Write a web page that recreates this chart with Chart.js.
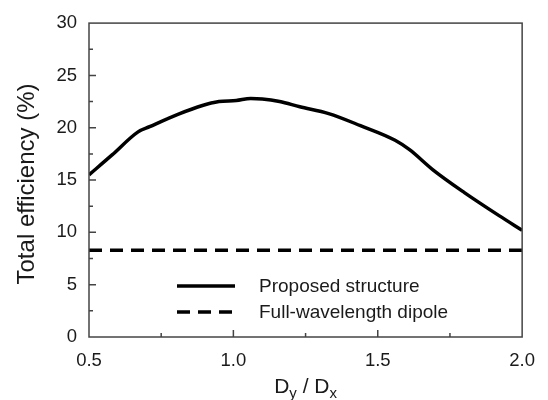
<!DOCTYPE html>
<html>
<head>
<meta charset="utf-8">
<script src="https://cdn.jsdelivr.net/npm/chart.js@4"></script>
<style>
  html, body { margin: 0; padding: 0; background: #fff; }
  #wrap { width: 548px; height: 400px; }
</style>
</head>
<body>
<div id="wrap"><canvas id="effChart" width="548" height="400"></canvas></div>
<script>
// values
const ratioX = [0.50, 0.58, 0.67, 0.71, 0.81, 0.89, 0.95, 1.01, 1.06, 1.10, 1.16, 1.23, 1.33, 1.44, 1.56, 1.61, 1.69, 1.80, 1.92, 2.00];
const proposedEff = [15.5, 17.4, 19.6, 20.1, 21.3, 22.1, 22.5, 22.6, 22.8, 22.75, 22.5, 22.0, 21.35, 20.2, 18.8, 17.9, 16.0, 13.8, 11.6, 10.2];
const dipoleX = [0.5, 2.0];
const dipoleEff = [8.3, 8.3];
const seriesNames = ['Proposed structure', 'Full-wavelength dipole'];
const xMajor = [1.0, 1.5], xMinor = [0.75, 1.25, 1.75];
const yMajor = [5, 10, 15, 20, 25], yMinor = [2.5, 7.5, 12.5, 17.5, 22.5, 27.5];

const FONT = '"Liberation Sans", Arial, sans-serif';
const INK = '#1a1a1a';

const toPts = (xs, ys) => xs.map((x, i) => ({ x, y: ys[i] }));

// frame, inward ticks, legend and axis titles
const decor = {
    id: 'decor',
    afterDraw(chart) {
        const { ctx, chartArea: a, scales: { x, y }, data } = chart;
        ctx.save();
        ctx.strokeStyle = '#444'; ctx.lineWidth = 1.5; ctx.setLineDash([]);
        ctx.strokeRect(a.left, a.top, a.right - a.left, a.bottom - a.top);
        ctx.beginPath();
        xMajor.forEach(v => { const p = x.getPixelForValue(v); ctx.moveTo(p, a.bottom); ctx.lineTo(p, a.bottom - 7); });
        xMinor.forEach(v => { const p = x.getPixelForValue(v); ctx.moveTo(p, a.bottom); ctx.lineTo(p, a.bottom - 4); });
        yMajor.forEach(v => { const p = y.getPixelForValue(v); ctx.moveTo(a.left, p); ctx.lineTo(a.left + 7, p); });
        yMinor.forEach(v => { const p = y.getPixelForValue(v); ctx.moveTo(a.left, p); ctx.lineTo(a.left + 4, p); });
        ctx.stroke();

        // legend
        const rows = [286, 312];
        data.datasets.forEach((ds, i) => {
            ctx.beginPath();
            ctx.strokeStyle = ds.borderColor; ctx.lineWidth = ds.borderWidth;
            ctx.setLineDash(ds.borderDash || []);
            ctx.moveTo(177, rows[i]); ctx.lineTo(235, rows[i]);
            ctx.stroke();
            ctx.fillStyle = INK; ctx.font = '19px ' + FONT;
            ctx.textBaseline = 'middle'; ctx.textAlign = 'left';
            ctx.fillText(ds.label, 259, rows[i] + 1);
        });
        ctx.setLineDash([]);

        // y title
        ctx.save();
        ctx.translate(27, 184); ctx.rotate(-Math.PI / 2);
        ctx.font = '24px ' + FONT; ctx.textAlign = 'center'; ctx.textBaseline = 'middle';
        ctx.fillText('Total efficiency (%)', 0, 0);
        ctx.restore();

        // x title with subscripts
        const parts = [['D', 21, 0], ['y', 15, 5], [' / ', 21, 0], ['D', 21, 0], ['x', 15, 5]];
        let w = 0;
        parts.forEach(([t, s]) => { ctx.font = s + 'px ' + FONT; w += ctx.measureText(t).width; });
        let cx = (a.left + a.right) / 2 - w / 2;
        ctx.textAlign = 'left'; ctx.textBaseline = 'alphabetic';
        parts.forEach(([t, s, dy]) => {
            ctx.font = s + 'px ' + FONT;
            ctx.fillText(t, cx, 393 + dy);
            cx += ctx.measureText(t).width;
        });
        ctx.restore();
    }
};

new Chart(document.getElementById('effChart'), {
    type: 'line',
    data: {
        datasets: [
            { label: seriesNames[0], data: toPts(ratioX, proposedEff), borderColor: '#000', borderWidth: 3.5,
              pointRadius: 0, cubicInterpolationMode: 'monotone', fill: false },
            { label: seriesNames[1], data: toPts(dipoleX, dipoleEff), borderColor: '#000', borderWidth: 3.5,
              borderDash: [13, 8], pointRadius: 0, fill: false }
        ]
    },
    options: {
        responsive: false, animation: false,
        layout: { padding: { top: 17, right: 25, left: 0, bottom: 0 } },
        plugins: { legend: { display: false }, tooltip: { enabled: false } },
        scales: {
            x: {
                type: 'linear', min: 0.5, max: 2.0,
                grid: { display: false, drawTicks: false }, border: { display: false },
                ticks: { stepSize: 0.5, padding: 13, color: INK, font: { family: FONT, size: 18.5 },
                         callback: v => v.toFixed(1) },
                afterFit: s => { s.height = 63; }
            },
            y: {
                min: 0, max: 30,
                grid: { display: false, drawTicks: false }, border: { display: false },
                ticks: { stepSize: 5, padding: 12, color: INK, font: { family: FONT, size: 18.5 } },
                afterFit: s => { s.width = 89; }
            }
        }
    },
    plugins: [decor]
});
</script>
</body>
</html>
